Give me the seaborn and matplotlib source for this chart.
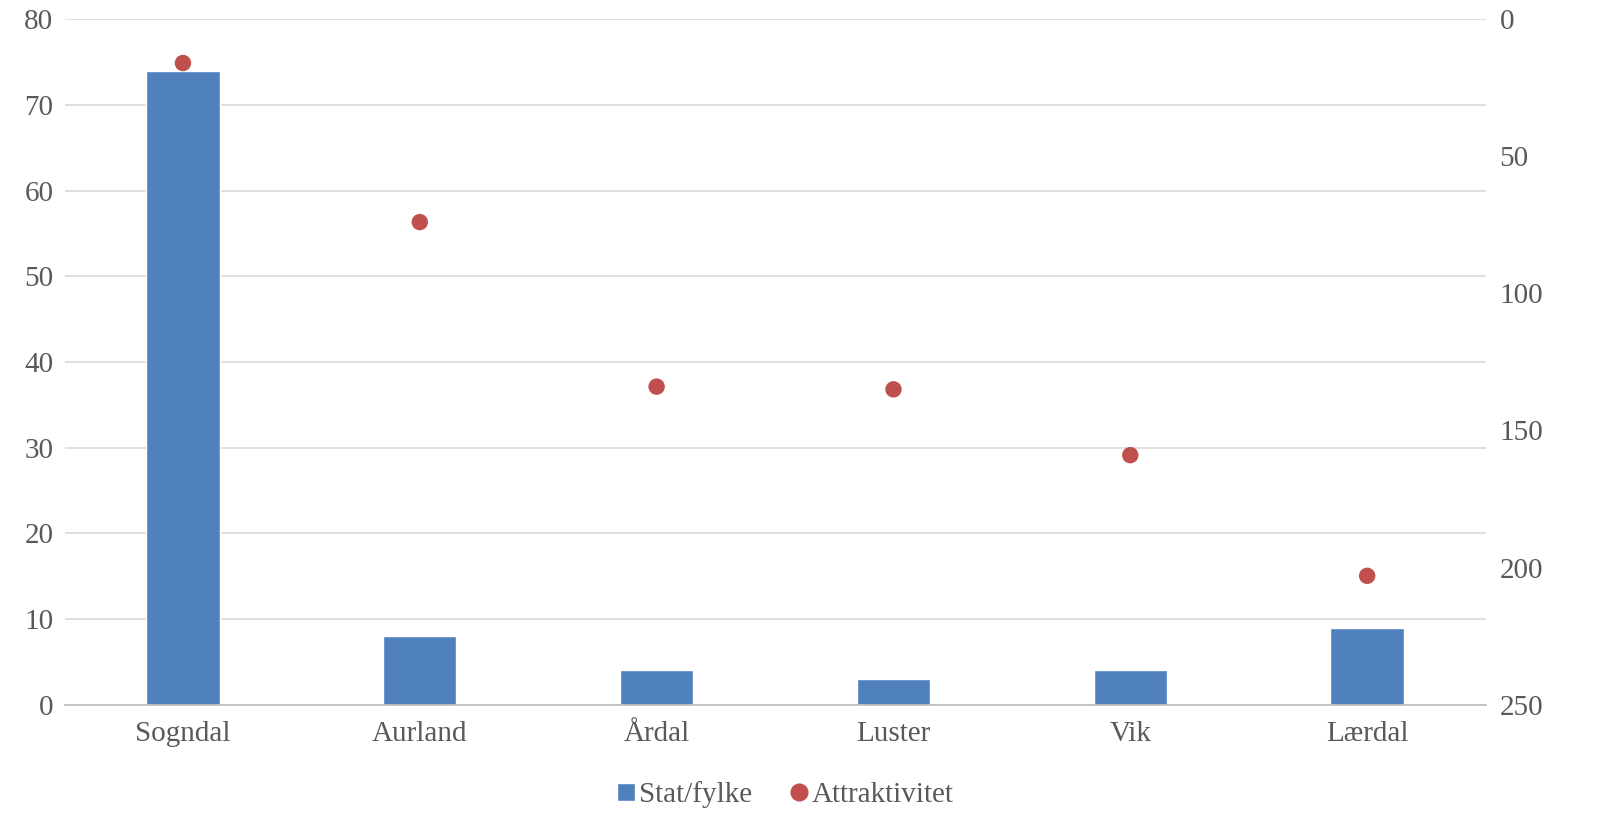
import numpy as np
import matplotlib.pyplot as plt
import seaborn as sns
import pandas as pd
from matplotlib.lines import Line2D
from matplotlib.patches import Patch

kommuner = ['Sogndal', 'Aurland', 'Årdal', 'Luster', 'Vik', 'Lærdal']
stat_fylke = [74, 8, 4, 3, 4, 9]
attraktivitet = [16, 74, 134, 135, 159, 203]

bar_color = '#4F81BD'
dot_color = '#C0504D'
text_color = '#595959'

sns.set_theme(style='white')
plt.rcParams['font.family'] = ['Liberation Serif', 'DejaVu Serif']

df = pd.DataFrame({'kommune': kommuner, 'stat': stat_fylke, 'attr': attraktivitet})

fig, ax = plt.subplots(figsize=(16.13, 8.32), dpi=100)
fig.subplots_adjust(left=0.040, right=0.921, top=0.977, bottom=0.153)

sns.barplot(data=df, x='kommune', y='stat', color=bar_color, width=0.31,
            saturation=1, ax=ax, zorder=2)
ax.set_ylim(0, 80)
ax.set_yticks(range(0, 81, 10))
ax.set_xlim(-0.5, 5.5)
ax.yaxis.grid(True, color='#D9D9D9', linewidth=1.2, zorder=0)
ax.set_axisbelow(True)
ax.set_xlabel('')
ax.set_ylabel('')
for s in ['top', 'left', 'right']:
    ax.spines[s].set_visible(False)
ax.spines['bottom'].set_color('#BFBFBF')
ax.tick_params(axis='both', length=0, labelsize=21, colors=text_color, pad=8)
ax.tick_params(axis='x', pad=12)

ax2 = ax.twinx()
sns.scatterplot(x=np.arange(len(kommuner)), y=df['attr'], color=dot_color, s=140,
                edgecolor='none', ax=ax2, zorder=3)
ax2.set_ylim(250, 0)
ax2.set_yticks(range(0, 251, 50))
ax2.set_ylabel('')
for s in ['top', 'left', 'right', 'bottom']:
    ax2.spines[s].set_visible(False)
ax2.tick_params(axis='y', length=0, labelsize=21, colors=text_color, pad=10)

handles = [Patch(facecolor=bar_color, label='Stat/fylke'),
           Line2D([], [], marker='o', linestyle='', color=dot_color, markersize=12,
                  label='Attraktivitet')]
fig.legend(handles=handles, loc='center', bbox_to_anchor=(0.487, 0.045), ncol=2,
           frameon=False, fontsize=21, handlelength=0.6, handleheight=0.6,
           handletextpad=0.15, columnspacing=1.3, labelcolor=text_color)

plt.savefig('out.png', dpi=100)
